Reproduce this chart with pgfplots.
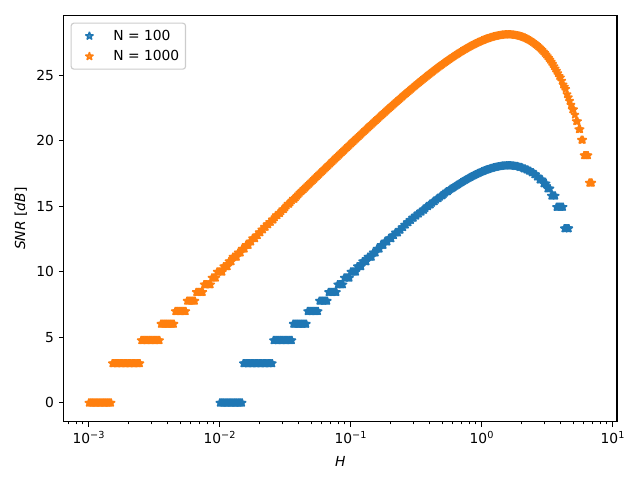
\documentclass[border=0pt]{standalone}
\usepackage{fontspec}
\setmainfont{DejaVu Sans}
\usepackage{pgfplots}
\pgfplotsset{compat=1.18}
\usepackage{pgfplotstable}
\definecolor{mplblue}{RGB}{31,119,180}
\definecolor{mplorange}{RGB}{255,127,14}
\pgfdeclareplotmark{mplstar}{%
  \pgfpathmoveto{\pgfpointpolar{90}{\pgfplotmarksize}}%
  \pgfpathlineto{\pgfpointpolar{126}{0.381966\pgfplotmarksize}}%
  \pgfpathlineto{\pgfpointpolar{162}{\pgfplotmarksize}}%
  \pgfpathlineto{\pgfpointpolar{198}{0.381966\pgfplotmarksize}}%
  \pgfpathlineto{\pgfpointpolar{234}{\pgfplotmarksize}}%
  \pgfpathlineto{\pgfpointpolar{270}{0.381966\pgfplotmarksize}}%
  \pgfpathlineto{\pgfpointpolar{306}{\pgfplotmarksize}}%
  \pgfpathlineto{\pgfpointpolar{342}{0.381966\pgfplotmarksize}}%
  \pgfpathlineto{\pgfpointpolar{18}{\pgfplotmarksize}}%
  \pgfpathlineto{\pgfpointpolar{54}{0.381966\pgfplotmarksize}}%
  \pgfpathclose
  \pgfusepathqfillstroke}

\pgfplotstableread{
x y
1.0000e-2 0
1.0233e-2 0
1.0471e-2 0
1.0715e-2 0
1.0965e-2 0
1.1220e-2 0
1.1482e-2 0
1.1749e-2 0
1.2023e-2 0
1.2303e-2 0
1.2589e-2 0
1.2882e-2 0
1.3183e-2 0
1.3490e-2 0
1.3804e-2 0
1.4125e-2 0
1.4454e-2 0
1.4791e-2 0
1.5136e-2 3.010
1.5488e-2 3.010
1.5849e-2 3.010
1.6218e-2 3.010
1.6596e-2 3.010
1.6982e-2 3.010
1.7378e-2 3.010
1.7783e-2 3.010
1.8197e-2 3.010
1.8621e-2 3.010
1.9055e-2 3.010
1.9498e-2 3.010
1.9953e-2 3.010
2.0417e-2 3.010
2.0893e-2 3.010
2.1380e-2 3.010
2.1878e-2 3.010
2.2387e-2 3.010
2.2909e-2 3.010
2.3442e-2 3.010
2.3988e-2 3.010
2.4547e-2 3.010
2.5119e-2 3.010
2.5704e-2 4.771
2.6303e-2 4.771
2.6915e-2 4.771
2.7542e-2 4.771
2.8184e-2 4.771
2.8840e-2 4.771
2.9512e-2 4.771
3.0200e-2 4.771
3.0903e-2 4.771
3.1623e-2 4.771
3.2359e-2 4.771
3.3113e-2 4.771
3.3884e-2 4.771
3.4674e-2 4.771
3.5481e-2 4.771
3.6308e-2 6.021
3.7154e-2 6.021
3.8019e-2 6.021
3.8905e-2 6.021
3.9811e-2 6.021
4.0738e-2 6.021
4.1687e-2 6.021
4.2658e-2 6.021
4.3652e-2 6.021
4.4668e-2 6.021
4.5709e-2 6.021
4.6774e-2 6.990
4.7863e-2 6.990
4.8978e-2 6.990
5.0119e-2 6.990
5.1286e-2 6.990
5.2481e-2 6.990
5.3703e-2 6.990
5.4954e-2 6.990
5.6234e-2 6.990
5.7544e-2 7.782
5.8884e-2 7.782
6.0256e-2 7.782
6.1660e-2 7.782
6.3096e-2 7.782
6.4565e-2 7.782
6.6069e-2 7.782
6.7608e-2 8.451
6.9183e-2 8.451
7.0795e-2 8.451
7.2444e-2 8.451
7.4131e-2 8.451
7.5858e-2 8.451
7.7625e-2 8.451
7.9433e-2 9.031
8.1283e-2 9.031
8.3176e-2 9.031
8.5114e-2 9.031
8.7096e-2 9.031
8.9125e-2 9.542
9.1201e-2 9.542
9.3325e-2 9.542
9.5499e-2 9.542
9.7724e-2 9.542
0.10000 10.000
0.10233 10.000
0.10471 10.000
0.10715 10.000
0.10965 10.000
0.11220 10.414
0.11482 10.414
0.11749 10.414
0.12023 10.414
0.12303 10.792
0.12589 10.792
0.12882 10.792
0.13183 10.792
0.13490 11.139
0.13804 11.139
0.14125 11.139
0.14454 11.139
0.14791 11.461
0.15136 11.461
0.15488 11.461
0.15849 11.761
0.16218 11.761
0.16596 11.761
0.16982 12.041
0.17378 12.041
0.17783 12.041
0.18197 12.304
0.18621 12.304
0.19055 12.304
0.19498 12.553
0.19953 12.553
0.20417 12.553
0.20893 12.788
0.21380 12.788
0.21878 12.991
0.22387 12.991
0.22909 12.991
0.23442 13.201
0.23988 13.201
0.24547 13.402
0.25119 13.402
0.25704 13.593
0.26303 13.593
0.26915 13.776
0.27542 13.776
0.28184 13.949
0.28840 13.949
0.29512 14.118
0.30200 14.118
0.30903 14.279
0.31623 14.279
0.32359 14.434
0.33113 14.434
0.33884 14.582
0.34674 14.582
0.35481 14.725
0.36308 14.725
0.37154 14.865
0.38019 14.998
0.38905 14.998
0.39811 15.128
0.40738 15.128
0.41687 15.254
0.42658 15.374
0.43652 15.374
0.44668 15.492
0.45709 15.606
0.46774 15.606
0.47863 15.715
0.48978 15.824
0.50119 15.824
0.51286 15.929
0.52481 16.031
0.53703 16.129
0.54954 16.129
0.56234 16.227
0.57544 16.321
0.58884 16.359
0.60256 16.426
0.61660 16.492
0.63096 16.558
0.64565 16.622
0.66069 16.686
0.67608 16.749
0.69183 16.811
0.70795 16.872
0.72444 16.932
0.74131 16.991
0.75858 17.049
0.77625 17.105
0.79433 17.161
0.81283 17.215
0.83176 17.269
0.85114 17.321
0.87096 17.372
0.89125 17.421
0.91201 17.470
0.93325 17.516
0.95499 17.562
0.97724 17.606
1.0000 17.649
1.0233 17.689
1.0471 17.729
1.0715 17.767
1.0965 17.804
1.1220 17.838
1.1482 17.871
1.1749 17.901
1.2023 17.931
1.2303 17.957
1.2589 17.983
1.2882 18.005
1.3183 18.027
1.3490 18.045
1.3804 18.063
1.4125 18.077
1.4454 18.090
1.4791 18.098
1.5136 18.106
1.5488 18.110
1.5849 18.113
1.6218 18.111
1.6596 18.109
1.6982 18.101
1.7378 18.093
1.7783 18.079
1.8197 18.060
1.8621 18.060
1.9055 18.029
1.9498 17.989
1.9953 17.989
2.0417 17.938
2.0893 17.875
2.1380 17.875
2.1878 17.797
2.2387 17.797
2.2909 17.702
2.3442 17.702
2.3988 17.585
2.4547 17.585
2.5119 17.441
2.5704 17.441
2.6303 17.261
2.6915 17.261
2.7542 17.035
2.8184 17.035
2.8840 17.035
2.9512 16.742
3.0200 16.742
3.0903 16.742
3.1623 16.352
3.2359 16.352
3.3113 16.352
3.3884 15.801
3.4674 15.801
3.5481 15.801
3.6308 15.801
3.7154 14.946
3.8019 14.946
3.8905 14.946
3.9811 14.946
4.0738 14.946
4.1687 14.946
4.2658 13.309
4.3652 13.309
4.4668 13.309
4.5709 13.309
4.6052 13.309
}\bluedata

\pgfplotstableread{
x y
1.0000e-3 0
1.0233e-3 0
1.0471e-3 0
1.0715e-3 0
1.0965e-3 0
1.1220e-3 0
1.1482e-3 0
1.1749e-3 0
1.2023e-3 0
1.2303e-3 0
1.2589e-3 0
1.2882e-3 0
1.3183e-3 0
1.3490e-3 0
1.3804e-3 0
1.4125e-3 0
1.4454e-3 0
1.4791e-3 0
1.5136e-3 3.010
1.5488e-3 3.010
1.5849e-3 3.010
1.6218e-3 3.010
1.6596e-3 3.010
1.6982e-3 3.010
1.7378e-3 3.010
1.7783e-3 3.010
1.8197e-3 3.010
1.8621e-3 3.010
1.9055e-3 3.010
1.9498e-3 3.010
1.9953e-3 3.010
2.0417e-3 3.010
2.0893e-3 3.010
2.1380e-3 3.010
2.1878e-3 3.010
2.2387e-3 3.010
2.2909e-3 3.010
2.3442e-3 3.010
2.3988e-3 3.010
2.4547e-3 3.010
2.5119e-3 4.771
2.5704e-3 4.771
2.6303e-3 4.771
2.6915e-3 4.771
2.7542e-3 4.771
2.8184e-3 4.771
2.8840e-3 4.771
2.9512e-3 4.771
3.0200e-3 4.771
3.0903e-3 4.771
3.1623e-3 4.771
3.2359e-3 4.771
3.3113e-3 4.771
3.3884e-3 4.771
3.4674e-3 4.771
3.5481e-3 6.021
3.6308e-3 6.021
3.7154e-3 6.021
3.8019e-3 6.021
3.8905e-3 6.021
3.9811e-3 6.021
4.0738e-3 6.021
4.1687e-3 6.021
4.2658e-3 6.021
4.3652e-3 6.021
4.4668e-3 6.021
4.5709e-3 6.990
4.6774e-3 6.990
4.7863e-3 6.990
4.8978e-3 6.990
5.0119e-3 6.990
5.1286e-3 6.990
5.2481e-3 6.990
5.3703e-3 6.990
5.4954e-3 6.990
5.6234e-3 7.782
5.7544e-3 7.782
5.8884e-3 7.782
6.0256e-3 7.782
6.1660e-3 7.782
6.3096e-3 7.782
6.4565e-3 7.782
6.6069e-3 8.451
6.7608e-3 8.451
6.9183e-3 8.451
7.0795e-3 8.451
7.2444e-3 8.451
7.4131e-3 8.451
7.5858e-3 9.031
7.7625e-3 9.031
7.9433e-3 9.031
8.1283e-3 9.031
8.3176e-3 9.031
8.5114e-3 9.031
8.7096e-3 9.542
8.9125e-3 9.542
9.1201e-3 9.542
9.3325e-3 9.542
9.5499e-3 10.000
9.7724e-3 10.000
1.0000e-2 10.000
1.0233e-2 10.000
1.0471e-2 10.000
1.0715e-2 10.414
1.0965e-2 10.414
1.1220e-2 10.414
1.1482e-2 10.414
1.1749e-2 10.792
1.2023e-2 10.792
1.2303e-2 10.792
1.2589e-2 11.139
1.2882e-2 11.139
1.3183e-2 11.139
1.3490e-2 11.139
1.3804e-2 11.461
1.4125e-2 11.461
1.4454e-2 11.461
1.4791e-2 11.761
1.5136e-2 11.761
1.5488e-2 11.761
1.5849e-2 12.041
1.6218e-2 12.041
1.6596e-2 12.041
1.6982e-2 12.304
1.7378e-2 12.304
1.7783e-2 12.553
1.8197e-2 12.553
1.8621e-2 12.553
1.9055e-2 12.788
1.9498e-2 12.788
1.9953e-2 13.010
2.0417e-2 13.010
2.0893e-2 13.222
2.1380e-2 13.222
2.1878e-2 13.424
2.2387e-2 13.424
2.2909e-2 13.617
2.3442e-2 13.617
2.3988e-2 13.802
2.4547e-2 13.802
2.5119e-2 13.979
2.5704e-2 13.979
2.6303e-2 14.150
2.6915e-2 14.314
2.7542e-2 14.314
2.8184e-2 14.472
2.8840e-2 14.472
2.9512e-2 14.624
3.0200e-2 14.771
3.0903e-2 14.771
3.1623e-2 14.914
3.2359e-2 15.051
3.3113e-2 15.185
3.3884e-2 15.185
3.4674e-2 15.315
3.5481e-2 15.441
3.6308e-2 15.563
3.7154e-2 15.563
3.8019e-2 15.682
3.8905e-2 15.798
3.9811e-2 15.911
4.0738e-2 16.021
4.1687e-2 16.128
4.2658e-2 16.207
4.3652e-2 16.305
4.4668e-2 16.403
4.5709e-2 16.500
4.6774e-2 16.598
4.7863e-2 16.696
4.8978e-2 16.793
5.0119e-2 16.890
5.1286e-2 16.988
5.2481e-2 17.085
5.3703e-2 17.183
5.4954e-2 17.280
5.6234e-2 17.377
5.7544e-2 17.474
5.8884e-2 17.571
6.0256e-2 17.668
6.1660e-2 17.765
6.3096e-2 17.862
6.4565e-2 17.959
6.6069e-2 18.056
6.7608e-2 18.153
6.9183e-2 18.249
7.0795e-2 18.346
7.2444e-2 18.442
7.4131e-2 18.538
7.5858e-2 18.634
7.7625e-2 18.730
7.9433e-2 18.826
8.1283e-2 18.922
8.3176e-2 19.018
8.5114e-2 19.114
8.7096e-2 19.210
8.9125e-2 19.305
9.1201e-2 19.400
9.3325e-2 19.496
9.5499e-2 19.591
9.7724e-2 19.686
0.10000 19.781
0.10233 19.876
0.10471 19.971
0.10715 20.066
0.10965 20.160
0.11220 20.254
0.11482 20.348
0.11749 20.442
0.12023 20.536
0.12303 20.630
0.12589 20.724
0.12882 20.818
0.13183 20.911
0.13490 21.004
0.13804 21.097
0.14125 21.190
0.14454 21.282
0.14791 21.375
0.15136 21.467
0.15488 21.559
0.15849 21.651
0.16218 21.743
0.16596 21.835
0.16982 21.926
0.17378 22.017
0.17783 22.108
0.18197 22.199
0.18621 22.290
0.19055 22.380
0.19498 22.470
0.19953 22.560
0.20417 22.649
0.20893 22.738
0.21380 22.827
0.21878 22.916
0.22387 23.005
0.22909 23.093
0.23442 23.181
0.23988 23.269
0.24547 23.356
0.25119 23.443
0.25704 23.530
0.26303 23.616
0.26915 23.702
0.27542 23.788
0.28184 23.874
0.28840 23.959
0.29512 24.044
0.30200 24.128
0.30903 24.212
0.31623 24.295
0.32359 24.378
0.33113 24.461
0.33884 24.543
0.34674 24.625
0.35481 24.707
0.36308 24.788
0.37154 24.868
0.38019 24.948
0.38905 25.028
0.39811 25.107
0.40738 25.185
0.41687 25.263
0.42658 25.341
0.43652 25.418
0.44668 25.494
0.45709 25.570
0.46774 25.645
0.47863 25.719
0.48978 25.793
0.50119 25.866
0.51286 25.939
0.52481 26.011
0.53703 26.082
0.54954 26.152
0.56234 26.222
0.57544 26.291
0.58884 26.359
0.60256 26.426
0.61660 26.492
0.63096 26.558
0.64565 26.622
0.66069 26.686
0.67608 26.749
0.69183 26.811
0.70795 26.872
0.72444 26.932
0.74131 26.991
0.75858 27.049
0.77625 27.105
0.79433 27.161
0.81283 27.215
0.83176 27.269
0.85114 27.321
0.87096 27.372
0.89125 27.421
0.91201 27.470
0.93325 27.516
0.95499 27.562
0.97724 27.606
1.0000 27.649
1.0233 27.689
1.0471 27.729
1.0715 27.767
1.0965 27.804
1.1220 27.838
1.1482 27.871
1.1749 27.901
1.2023 27.931
1.2303 27.957
1.2589 27.983
1.2882 28.005
1.3183 28.027
1.3490 28.045
1.3804 28.063
1.4125 28.077
1.4454 28.090
1.4791 28.098
1.5136 28.106
1.5488 28.110
1.5849 28.113
1.6218 28.111
1.6596 28.109
1.6982 28.101
1.7378 28.093
1.7783 28.079
1.8197 28.065
1.8621 28.045
1.9055 28.024
1.9498 27.997
1.9953 27.969
2.0417 27.935
2.0893 27.900
2.1380 27.858
2.1878 27.815
2.2387 27.765
2.2909 27.714
2.3442 27.655
2.3988 27.596
2.4547 27.527
2.5119 27.458
2.5704 27.380
2.6303 27.302
2.6915 27.213
2.7542 27.124
2.8184 27.025
2.8840 26.925
2.9512 26.814
3.0200 26.702
3.0903 26.578
3.1623 26.454
3.2359 26.318
3.3113 26.181
3.3884 26.024
3.4674 25.866
3.5481 25.688
3.6308 25.509
3.7154 25.341
3.8019 25.155
3.8905 24.946
3.9811 24.832
4.0738 24.580
4.1687 24.291
4.2658 24.128
4.3652 23.952
4.4668 23.545
4.5709 23.309
4.6774 23.043
4.7863 22.742
4.8978 22.394
5.0119 22.394
5.1286 21.986
5.2481 21.494
5.3703 21.494
5.4954 20.879
5.6234 20.879
5.7544 20.067
5.8884 20.067
6.0256 18.887
6.1660 18.887
6.3096 18.887
6.4565 18.887
6.6069 16.791
6.7608 16.791
6.9078 16.791
}\orangedata

\begin{document}
\begin{tikzpicture}
\begin{axis}[
  at={(0,0)}, anchor=south west,
  scale only axis, width=5.533in, height=4.06in,
  xmode=log, xmin=6.43e-4, xmax=10.75,
  ymin=-1.44, ymax=29.55,
  axis line style={line width=0.8pt},
  tick align=outside, tick pos=left,
  major tick length=3.5pt, minor tick length=2pt,
  every major tick/.append style={black, line width=0.8pt},
  every minor tick/.append style={black, line width=0.6pt},
  xtick={1e-3,1e-2,1e-1,1,10},
  xticklabels={10\textsuperscript{−3},10\textsuperscript{−2},10\textsuperscript{−1},10\textsuperscript{0},10\textsuperscript{1}},
  minor xtick={7e-4,8e-4,9e-4,2e-3,3e-3,4e-3,5e-3,6e-3,7e-3,8e-3,9e-3,2e-2,3e-2,4e-2,5e-2,6e-2,7e-2,8e-2,9e-2,0.2,0.3,0.4,0.5,0.6,0.7,0.8,0.9,2,3,4,5,6,7,8,9},
  ytick={0,5,10,15,20,25},
  yticklabels={0,5,10,15,20,25},
  xlabel={\textit{H}},
  xlabel style={yshift=-2pt},
  ylabel={\textit{SNR} [\textit{dB}]},
  legend cell align=left,
  legend image code/.code={\draw[#1] plot coordinates {(10.7pt,0pt)}; \path[draw=none,fill=none] (0pt,-3pt) (26pt,3pt);},
  legend style={at={(0,1)}, anchor=north west, xshift=5pt, yshift=-5pt,
    draw=white!80!black, line width=0.8pt, rounded corners=2pt,
    fill=white, fill opacity=0.8, text opacity=1,
    inner xsep=2.5pt, inner ysep=2.8pt, row sep=1.8pt,
    nodes={inner sep=2pt, text depth=0.15em}},
]
\addplot[only marks, mark=mplstar, mark size=3pt, color=mplblue,
  mark options={line width=1pt, fill=mplblue, draw=mplblue, line join=bevel, sharp corners}]
  table[x=x, y=y] {\bluedata};
\addlegendentry{N = 100}
\addplot[only marks, mark=mplstar, mark size=3pt, color=mplorange,
  mark options={line width=1pt, fill=mplorange, draw=mplorange, line join=bevel, sharp corners}]
  table[x=x, y=y] {\orangedata};
\addlegendentry{N = 1000}
\end{axis}
\pgfresetboundingbox
\path[use as bounding box] (-0.637in,-0.583in) rectangle (5.763in,4.217in);
\end{tikzpicture}
\end{document}
